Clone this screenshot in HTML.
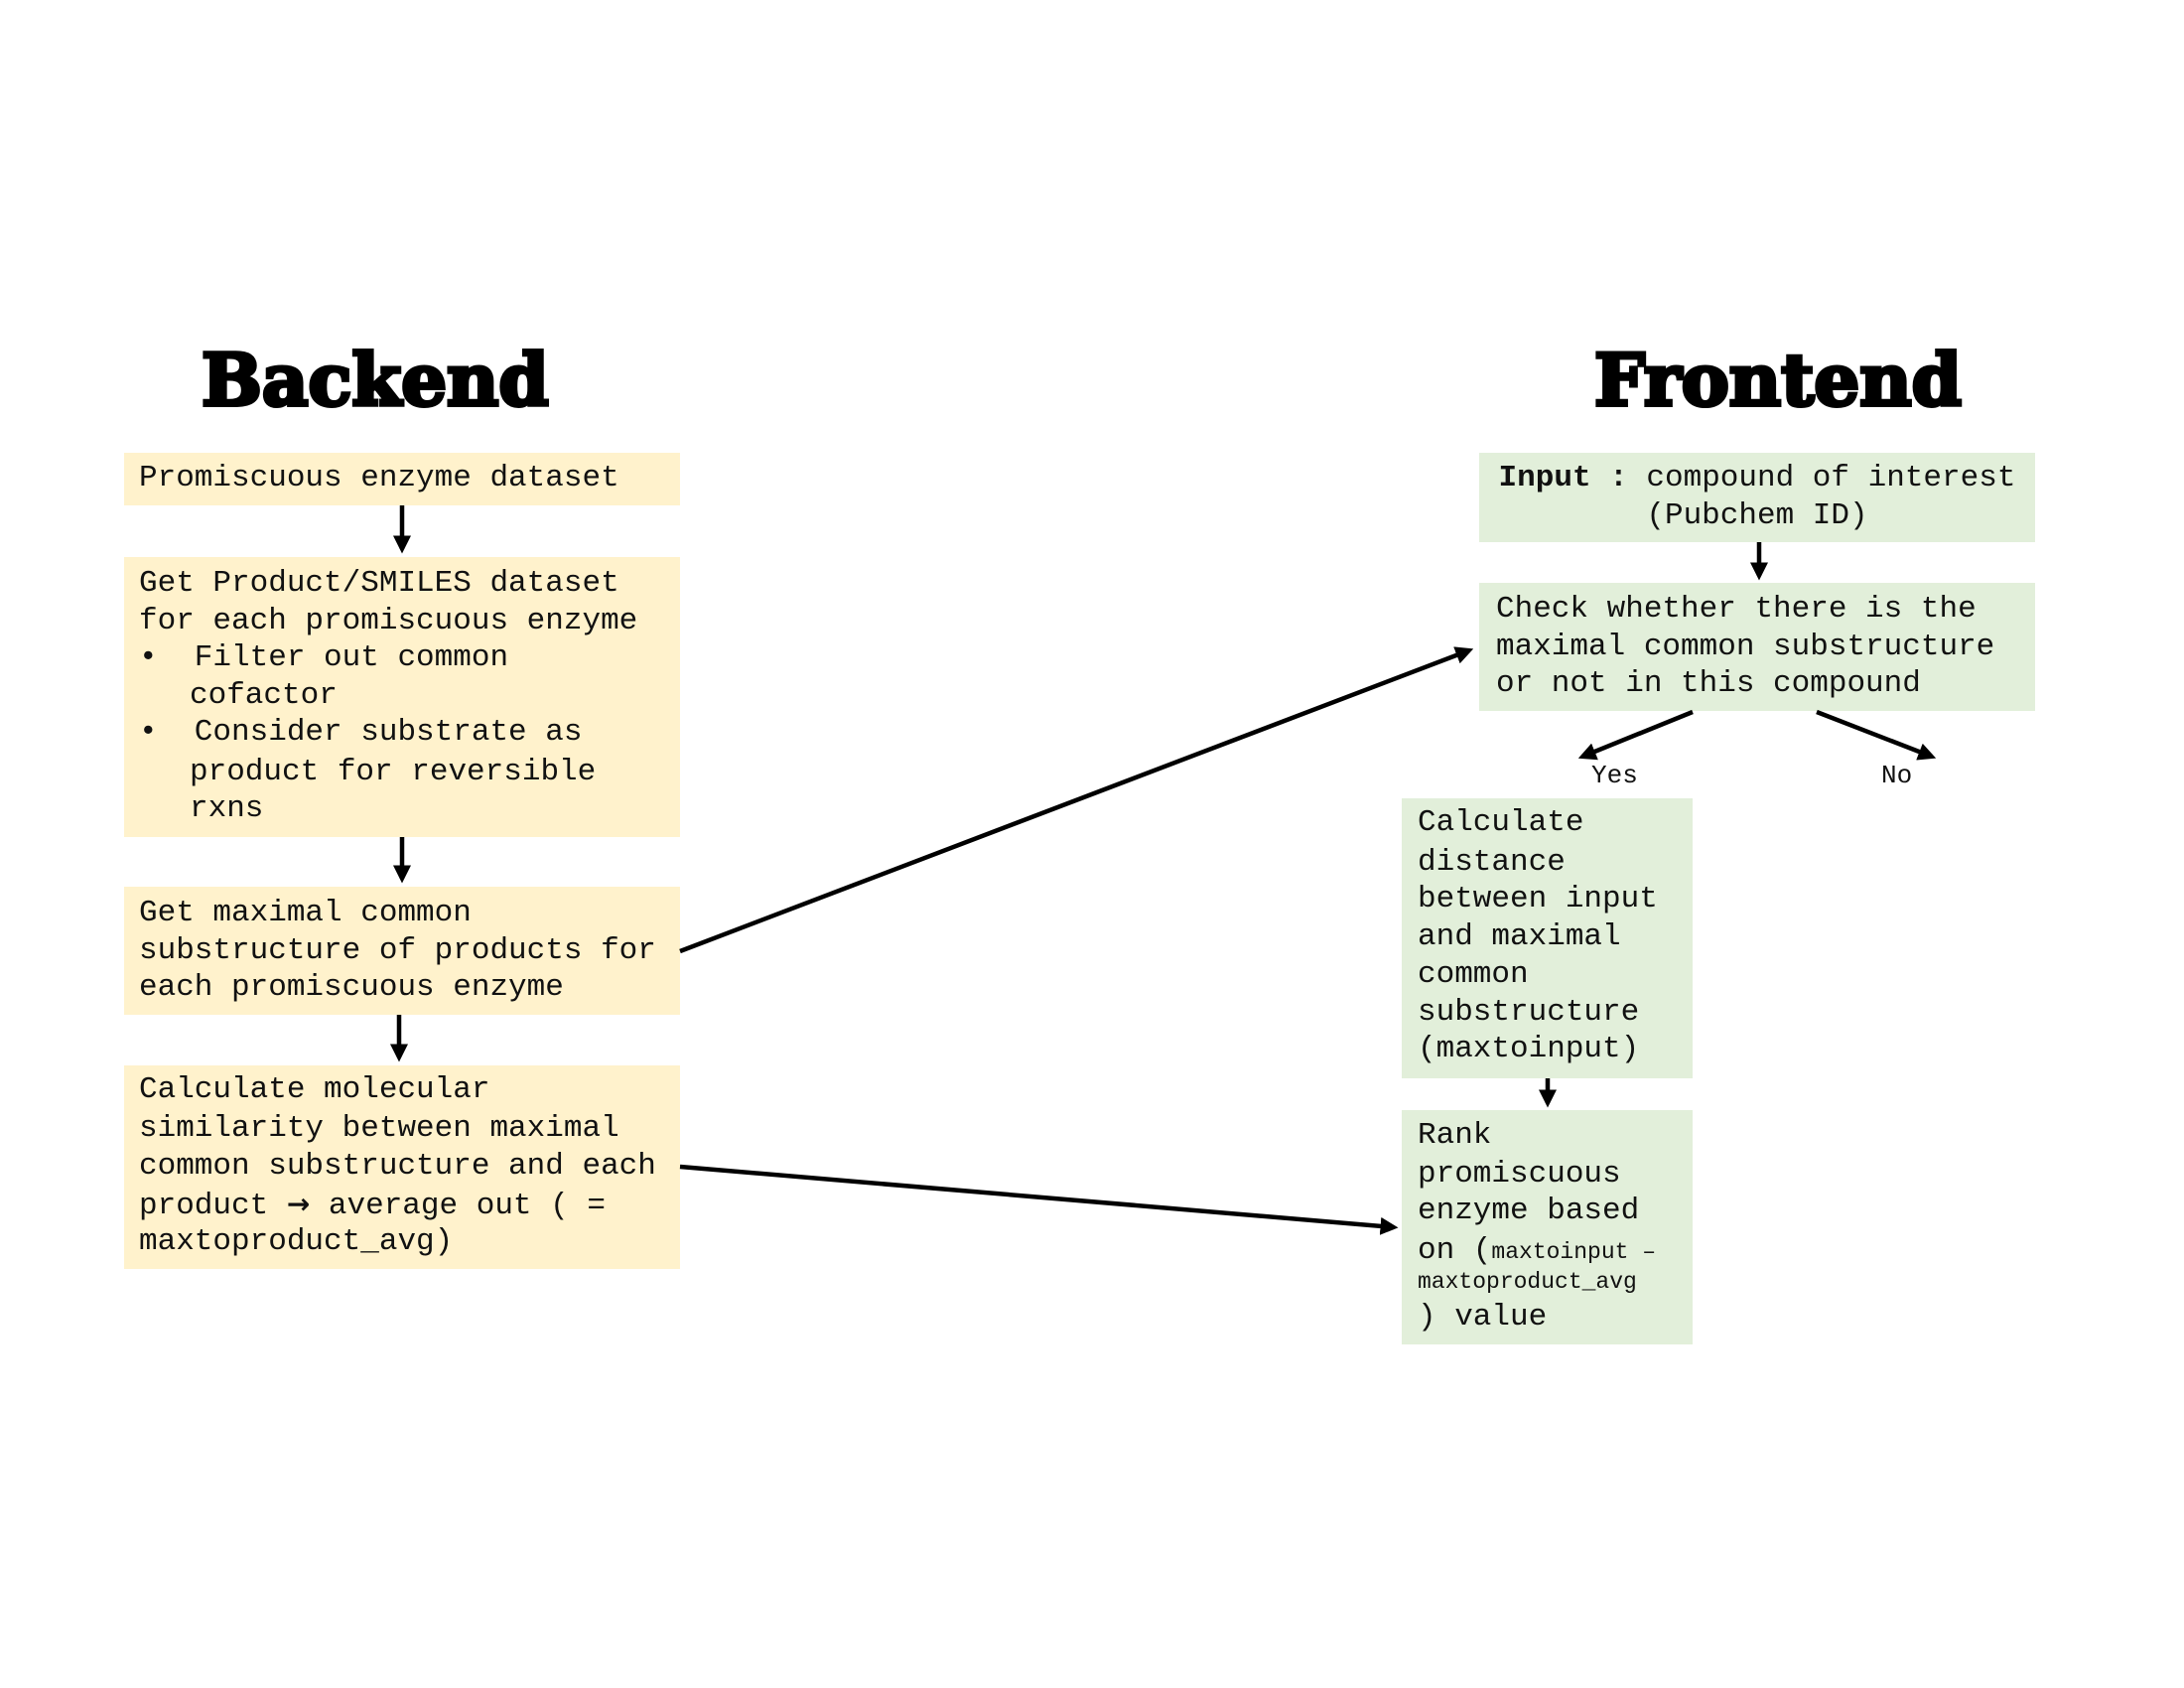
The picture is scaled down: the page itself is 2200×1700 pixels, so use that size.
<!DOCTYPE html>
<html><head><meta charset="utf-8"><style>
body{margin:0;width:2200px;height:1700px;background:#fff;position:relative;overflow:hidden;font-family:"Liberation Mono",monospace;}
.b{position:absolute;}
.y{background:#fff2cc;}
.g{background:#e2efda;}
.l{position:absolute;font-size:31px;line-height:38px;height:38px;white-space:pre;color:#111;}
.t{position:absolute;font-family:"DejaVu Serif","Liberation Serif",serif;font-weight:900;font-size:72px;line-height:90px;white-space:nowrap;color:#000;-webkit-text-stroke:4px #000;}
.s{font-size:23px;}
</style></head><body>
<div class="t" style="left:203px;top:338px;">Backend</div>
<div class="t" style="left:1606px;top:338px;">Frontend</div>

<div class="b y" style="left:125px;top:456px;width:560px;height:53px"></div>
<div class="b y" style="left:125px;top:561px;width:560px;height:282px"></div>
<div class="b y" style="left:125px;top:893px;width:560px;height:129px"></div>
<div class="b y" style="left:125px;top:1073px;width:560px;height:205px"></div>

<div class="b g" style="left:1490px;top:456px;width:560px;height:90px"></div>
<div class="b g" style="left:1490px;top:587px;width:560px;height:129px"></div>
<div class="b g" style="left:1412px;top:804px;width:293px;height:282px"></div>
<div class="b g" style="left:1412px;top:1118px;width:293px;height:236px"></div>

<div class="l" style="left:140px;top:463px">Promiscuous enzyme dataset</div>

<div class="l" style="left:140px;top:569px">Get Product/SMILES dataset</div>
<div class="l" style="left:140px;top:607px">for each promiscuous enzyme</div>
<div class="l" style="left:140px;top:644px">•  Filter out common</div>
<div class="l" style="left:191px;top:682px">cofactor</div>
<div class="l" style="left:140px;top:719px">•  Consider substrate as</div>
<div class="l" style="left:191px;top:759px">product for reversible</div>
<div class="l" style="left:191px;top:796px">rxns</div>

<div class="l" style="left:140px;top:901px">Get maximal common</div>
<div class="l" style="left:140px;top:939px">substructure of products for</div>
<div class="l" style="left:140px;top:976px">each promiscuous enzyme</div>

<div class="l" style="left:140px;top:1079px">Calculate molecular</div>
<div class="l" style="left:140px;top:1118px">similarity between maximal</div>
<div class="l" style="left:140px;top:1156px">common substructure and each</div>
<div class="l" style="left:140px;top:1194px">product <span style="font-family:'DejaVu Sans',sans-serif;font-weight:bold;font-size:28px">→</span> average out ( =</div>
<div class="l" style="left:140px;top:1232px">maxtoproduct_avg)</div>

<div class="l" style="left:1490px;width:560px;text-align:center;top:463px"><b>Input :</b> compound of interest</div>
<div class="l" style="left:1490px;width:560px;text-align:center;top:501px">(Pubchem ID)</div>

<div class="l" style="left:1507px;top:595px">Check whether there is the</div>
<div class="l" style="left:1507px;top:633px">maximal common substructure</div>
<div class="l" style="left:1507px;top:670px">or not in this compound</div>

<div class="l" style="left:1603px;top:762px;font-size:26px">Yes</div>
<div class="l" style="left:1895px;top:762px;font-size:26px">No</div>

<div class="l" style="left:1428px;top:810px">Calculate</div>
<div class="l" style="left:1428px;top:850px">distance</div>
<div class="l" style="left:1428px;top:887px">between input</div>
<div class="l" style="left:1428px;top:925px">and maximal</div>
<div class="l" style="left:1428px;top:963px">common</div>
<div class="l" style="left:1428px;top:1001px">substructure</div>
<div class="l" style="left:1428px;top:1038px">(maxtoinput)</div>

<div class="l" style="left:1428px;top:1125px">Rank</div>
<div class="l" style="left:1428px;top:1164px">promiscuous</div>
<div class="l" style="left:1428px;top:1201px">enzyme based</div>
<div class="l" style="left:1428px;top:1241px">on (<span class="s">maxtoinput –</span></div>
<div class="l s" style="left:1428px;top:1272px">maxtoproduct_avg</div>
<div class="l" style="left:1428px;top:1308px">) value</div>

<svg width="2200" height="1700" style="position:absolute;left:0;top:0">
<defs><marker id="a" markerWidth="4" markerHeight="4" refX="3" refY="2" orient="auto" markerUnits="strokeWidth"><path d="M0,0 L4,2 L0,4 z" fill="#000"/></marker></defs>
<g stroke="#000" stroke-width="4.5" fill="none" marker-end="url(#a)">
<line x1="405" y1="509" x2="405" y2="553"/>
<line x1="405" y1="843" x2="405" y2="885"/>
<line x1="402" y1="1022" x2="402" y2="1065"/>
<line x1="1772" y1="546" x2="1772" y2="580"/>
<line x1="1559" y1="1086" x2="1559" y2="1111"/>
<line x1="1705" y1="717" x2="1594" y2="762"/>
<line x1="1830" y1="717" x2="1946" y2="762"/>
<line x1="685" y1="958" x2="1480" y2="655"/>
<line x1="685" y1="1175" x2="1404" y2="1236"/>
</g></svg>
</body></html>
